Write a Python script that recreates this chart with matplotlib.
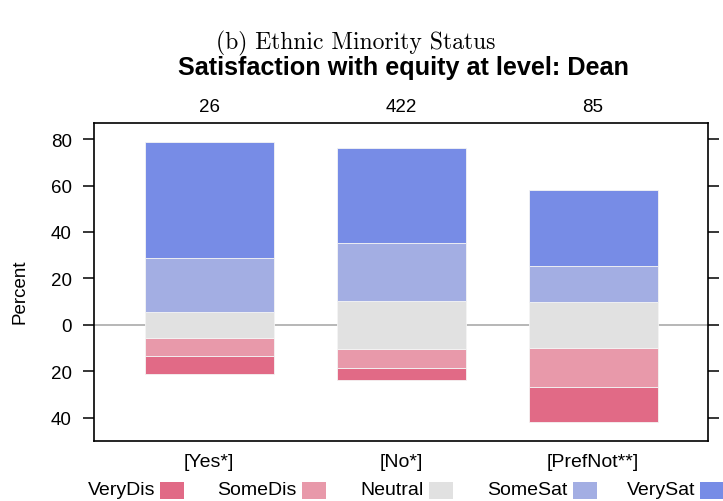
import matplotlib.pyplot as plt
from matplotlib.patches import Rectangle

# Likert percentages by ethnic minority status (rows of the chart)
groups = ['[Yes*]', '[No*]', '[PrefNot**]']
counts = [26, 422, 85]
levels = ['VeryDis', 'SomeDis', 'Neutral', 'SomeSat', 'VerySat']
very_dis = [7.7, 5.2, 15.3]
some_dis = [7.7, 8.3, 16.5]
neutral = [11.5, 20.6, 20.0]
some_sat = [23.1, 24.9, 15.3]
very_sat = [50.0, 41.0, 32.9]
colors = ['#E16A86', '#E899AA', '#E1E1E1', '#A3AEE3', '#778CE6']

plt.rcParams['font.family'] = ['Liberation Sans', 'DejaVu Sans']

W, H = 723, 502
fig = plt.figure(figsize=(W / 100, H / 100), dpi=100)
ax = fig.add_axes([94 / W, 1 - 441.7 / H, (708.3 - 94) / W, (441.7 - 124) / H])

x = [1, 2, 3]
half = [n / 2 for n in neutral]
sd_bot = [-h - s for h, s in zip(half, some_dis)]
vd_bot = [b - v for b, v in zip(sd_bot, very_dis)]
vs_bot = [h + s for h, s in zip(half, some_sat)]
bw = 0.673
kw = dict(width=bw, edgecolor='#f4f4f4', linewidth=0.6, zorder=2)

ax.axhline(0, color='#aaaaaa', lw=1.2, zorder=1)
ax.bar(x, very_dis, bottom=vd_bot, color=colors[0], **kw)
ax.bar(x, some_dis, bottom=sd_bot, color=colors[1], **kw)
ax.bar(x, neutral, bottom=[-h for h in half], color=colors[2], **kw)
ax.bar(x, some_sat, bottom=half, color=colors[3], **kw)
ax.bar(x, very_sat, bottom=vs_bot, color=colors[4], **kw)

ax.set_xlim(0.4, 3.6)
ax.set_ylim(-49.8, 86.9)
yt = [-40, -20, 0, 20, 40, 60, 80]
ax.set_yticks(yt, [str(abs(v)) for v in yt])
ax.tick_params(axis='y', right=True, direction='out', length=8, width=1.1,
               labelsize=13.5, pad=8)
ax.set_xticks(x, groups)
ax.tick_params(axis='x', length=0, labelsize=14, pad=9)
for s in ax.spines.values():
    s.set_linewidth(1.2)

top = ax.secondary_xaxis('top')
top.set_xticks(x, [str(c) for c in counts])
top.tick_params(length=0, labelsize=13.5, pad=6)
top.spines['top'].set_visible(False)

fig.text(20 / W, 1 - 292 / H, 'Percent', rotation=90, ha='center', va='center', fontsize=13.5)
fig.text(404 / W, 1 - 68 / H, 'Satisfaction with equity at level: Dean',
         ha='center', va='center', fontsize=18.2, fontweight='bold')
fig.text(356 / W, 1 - 43 / H, '(b) Ethnic Minority Status', ha='center', va='center',
         fontsize=17, family='cmr10')

# legend row below the panel, label left of the colour key
key_left = [160, 302, 429, 573, 700]
for lab, col, kx in zip(levels, colors, key_left):
    fig.patches.append(Rectangle((kx / W, 1 - 499.5 / H), 24 / W, 17 / H,
                                 transform=fig.transFigure, facecolor=col,
                                 edgecolor='none'))
    fig.text((kx - 5) / W, 1 - 491 / H, lab, ha='right', va='center', fontsize=14)

fig.savefig('out.png', dpi=100)
